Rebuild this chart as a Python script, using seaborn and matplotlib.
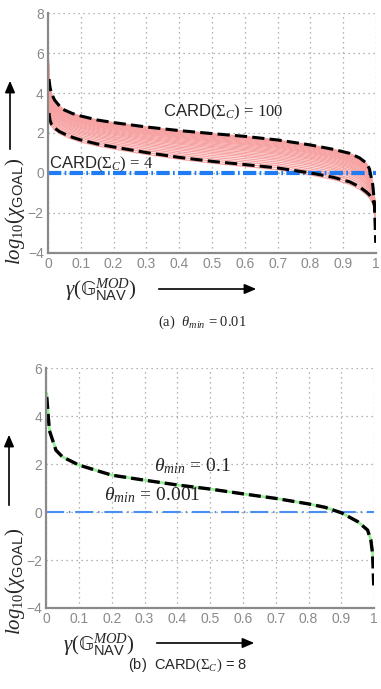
import numpy as np
import pandas as pd
import matplotlib
matplotlib.use("Agg")
import matplotlib.pyplot as plt
from matplotlib.patches import FancyArrowPatch
import seaborn as sns

# ---- data ----
# (a) theta_min = 0.01, pink band of Card(Sigma_C) curves
x_pink = [0.001, 0.003, 0.006, 0.01, 0.02, 0.035, 0.05, 0.075, 0.1, 0.15, 0.2, 0.3, 0.4,
          0.5, 0.6, 0.7, 0.8, 0.87, 0.92, 0.95, 0.97, 0.98, 0.99, 0.995, 0.999]
pink_low = [3.1, 2.9, 2.55, 2.35, 2.15, 1.97, 1.85, 1.68, 1.55, 1.35, 1.2, 0.93, 0.69,
            0.49, 0.33, 0.16, -0.1, -0.33, -0.57, -0.82, -1.08, -1.25, -1.55, -1.9, -2.7]
pink_up = [5.9, 4.7, 4.3, 4.0, 3.65, 3.35, 3.15, 2.97, 2.85, 2.65, 2.52, 2.3, 2.12,
           1.97, 1.83, 1.65, 1.4, 1.18, 0.98, 0.75, 0.5, 0.2, -0.5, -1.2, -2.0]
# relative position of each pink curve inside the band (bottom = Card 4, top = Card 100)
pink_frac = [0.0, 0.07, 0.14, 0.2, 0.26, 0.32, 0.37, 0.42, 0.47, 0.52, 0.56, 0.6, 0.64,
             0.68, 0.72, 0.75, 0.78, 0.81, 0.84, 0.87, 0.9, 0.92, 0.94, 0.96, 0.98, 1.0]

# black dashed bounding curves
x_card = [0.003, 0.006, 0.01, 0.02, 0.035, 0.05, 0.075, 0.1, 0.15, 0.2, 0.3, 0.4,
          0.5, 0.6, 0.7, 0.8, 0.87, 0.92, 0.95, 0.97, 0.98, 0.99, 0.995, 0.999]
card4 = [3.0, 2.65, 2.45, 2.25, 2.07, 1.95, 1.78, 1.65, 1.45, 1.3, 1.02, 0.78,
         0.58, 0.42, 0.25, 0.0, -0.22, -0.45, -0.7, -0.95, -1.1, -1.35, -1.6, -2.2]
card100 = [4.7, 4.3, 4.0, 3.65, 3.35, 3.15, 2.97, 2.85, 2.65, 2.52, 2.3, 2.12,
           1.97, 1.83, 1.65, 1.4, 1.18, 0.98, 0.75, 0.5, 0.2, -0.6, -1.5, -3.5]

# (b) Card(Sigma_C) = 8
x_b = [0.002, 0.01, 0.03, 0.05, 0.1, 0.2, 0.3, 0.4, 0.5, 0.6, 0.7, 0.8, 0.85, 0.9,
       0.95, 0.98, 0.99, 0.995, 0.999]
theta_01 = [4.95, 3.45, 2.6, 2.3, 1.96, 1.54, 1.33, 1.13, 0.96, 0.76, 0.57, 0.34, 0.2,
            -0.03, -0.4, -0.75, -1.15, -1.65, -2.3]
theta_0001 = [4.8, 3.4, 2.58, 2.3, 1.96, 1.54, 1.33, 1.13, 0.96, 0.76, 0.57, 0.34, 0.2,
              -0.03, -0.4, -0.75, -1.17, -1.72, -3.1]

xticks = [0, 0.1, 0.2, 0.3, 0.4, 0.5, 0.6, 0.7, 0.8, 0.9, 1]
xtick_labels = ["0", "0.1", "0.2", "0.3", "0.4", "0.5", "0.6", "0.7", "0.8", "0.9", "1"]

sns.set_theme(style="white")
plt.rcParams["font.family"] = ["Liberation Sans", "DejaVu Sans"]
plt.rcParams["mathtext.fontset"] = "custom"
plt.rcParams["mathtext.rm"] = "Liberation Serif"
plt.rcParams["mathtext.it"] = "Liberation Serif:italic"
plt.rcParams["mathtext.sf"] = "Liberation Sans"
plt.rcParams["mathtext.fallback"] = "stix"

fig = plt.figure(figsize=(3.81, 6.89), dpi=100)
ax1 = fig.add_axes([0.126, 0.633, 0.861, 0.348])
ax2 = fig.add_axes([0.121, 0.1176, 0.861, 0.348])

gray = "#8a8a8a"


def style_axes(ax, ylim, yticks):
    ax.set_xlim(0, 1)
    ax.set_ylim(*ylim)
    ax.set_xticks(xticks)
    ax.set_xticklabels(xtick_labels)
    ax.set_yticks(yticks)
    ax.set_yticklabels([f"{t:g}".replace("-", "\u2212") for t in yticks])
    ax.grid(True, linestyle=(0, (1, 3)), color="#9a9a9a", linewidth=0.9)
    for s in ["top", "right"]:
        ax.spines[s].set_visible(False)
    for s in ["left", "bottom"]:
        ax.spines[s].set_color(gray)
        ax.spines[s].set_linewidth(1.6)
    ax.tick_params(colors=gray, labelsize=10, length=3, direction="in", pad=3)
    ax.set_xlabel("")
    ax.set_ylabel("")
    ax.set_facecolor("white")


# ---- (a) ----
low = np.array(pink_low)
up = np.array(pink_up)
for f in pink_frac:
    sns.lineplot(x=x_pink, y=low + f * (up - low), ax=ax1, color="#f7a2a2",
                 linewidth=0.9, estimator=None, sort=False)

sns.lineplot(x=[0, 1], y=[0, 0], ax=ax1, color="#1f7cf5", linewidth=3.0,
             estimator=None, sort=False)
ax1.lines[-1].set_dashes((3.2, 0.8, 0.4, 0.8))

for ys in (card4, card100):
    sns.lineplot(x=x_card, y=ys, ax=ax1, color="black", linewidth=2.2,
                 estimator=None, sort=False)
    ax1.lines[-1].set_dashes((4.0, 1.7))

style_axes(ax1, (-4, 8), [-4, -2, 0, 2, 4, 6, 8])
ax1.text(0.35, 3.05, r"CARD$(\Sigma_C)\,=\,100$", fontsize=12, va="center", ha="left")
ax1.text(0.004, 0.45, r"CARD$(\Sigma_C)\,=\,4$", fontsize=12, va="center", ha="left")

# ---- (b) ----
sns.lineplot(x=[0, 1], y=[0, 0], ax=ax2, color="#4a8ef2", linewidth=1.5,
             estimator=None, sort=False)
ax2.lines[-1].set_dashes((8.7, 2.3, 0.7, 2.3))
sns.lineplot(x=x_b, y=theta_01, ax=ax2, color="#98ee98", linewidth=2.0,
             estimator=None, sort=False)
sns.lineplot(x=x_b, y=theta_0001, ax=ax2, color="black", linewidth=2.4,
             estimator=None, sort=False)
ax2.lines[-1].set_dashes((3.6, 1.5))

style_axes(ax2, (-4, 6), [-4, -2, 0, 2, 4, 6])
ax2.text(0.33, 1.9, r"$\theta_{min}\,=\,0.1$", fontsize=14, va="center", ha="left")
ax2.text(0.175, 0.7, r"$\theta_{min}\,=\,0.001$", fontsize=14, va="center", ha="left")

# ---- axis labels with arrows (figure coordinates) ----
W, H = 381.0, 689.0


def fx(px):
    return px / W


def fy(py):
    return 1 - py / H


def fig_arrow(p0, p1):
    fig.patches.append(FancyArrowPatch(
        (fx(p0[0]), fy(p0[1])), (fx(p1[0]), fy(p1[1])), transform=fig.transFigure,
        arrowstyle="-|>,head_length=7,head_width=3", color="black", lw=1.2))


ylab = r"$log_{10}(\chi_{\mathsf{GOAL}})$"
xlab = r"$\gamma(\mathrm{𝔾}_{\mathsf{NAV}}^{MOD})$"

# (a)
fig.text(fx(15), fy(211), ylab, rotation=90, fontsize=15, ha="center", va="center")
fig_arrow((10, 152), (10, 78))
fig.text(fx(101), fy(290), xlab, fontsize=15, ha="center", va="center")
fig_arrow((156, 289), (259, 289))
fig.text(fx(202), fy(322), r"(a)  $\theta_{min}$ = 0.01", fontsize=10.5,
         ha="center", va="center", family="Liberation Serif")

# (b)
fig.text(fx(15), fy(581), ylab, rotation=90, fontsize=15, ha="center", va="center")
fig_arrow((9, 508), (9, 432))
fig.text(fx(99), fy(645), xlab, fontsize=15, ha="center", va="center")
fig_arrow((154, 643), (257, 643))
fig.text(fx(188), fy(665), r"(b)  CARD$\mathrm{(\Sigma_{\mathit{C}})}$ = 8", fontsize=10.5,
         ha="center", va="center")

fig.savefig("out.png", dpi=100, facecolor="white")
